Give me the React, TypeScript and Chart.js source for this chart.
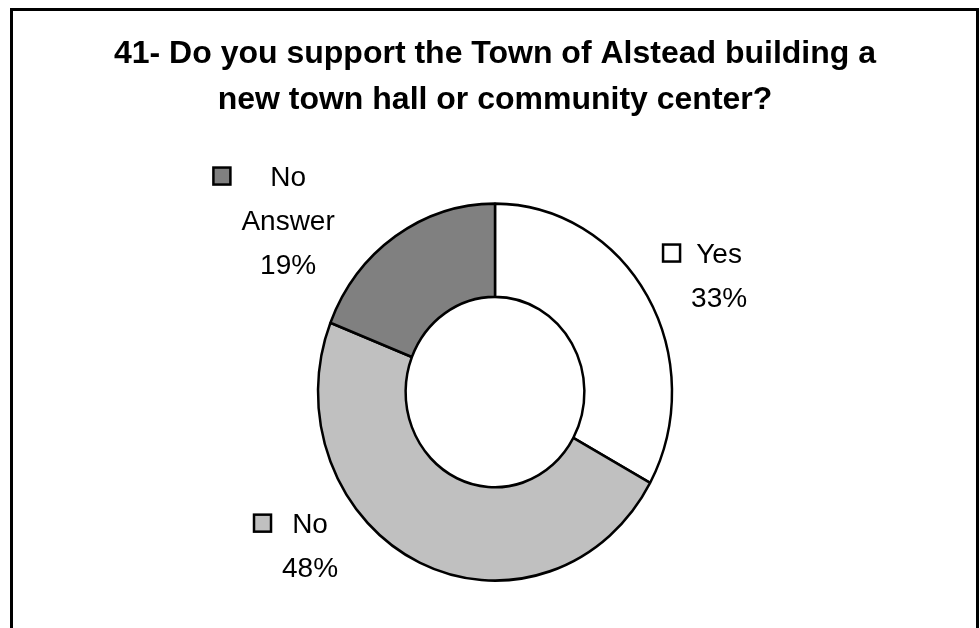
import React, { useEffect, useRef } from "react";
import { Chart, registerables } from "chart.js";

Chart.register(...registerables);

// ---- data ----
const titleLines = [
  "41- Do you support the Town of Alstead building a",
  "new town hall or community center?",
];
const categories = ["Yes", "No", "No Answer"];
const categoryLines = [["Yes"], ["No"], ["No", "Answer"]];
const values = [33, 48, 19];
const sliceColors = ["#FFFFFF", "#C0C0C0", "#808080"];

// label anchors relative to arc centre, in units of the outer radius (style, not data)
const labelAnchors = [
  { dx: 1.266, dy: -0.729 },
  { dx: -1.045, dy: 0.797 },
  { dx: -1.169, dy: -1.164 },
];

const FONT = "'Liberation Sans', Arial, sans-serif";
const Y_STRETCH = 1.065;

const ellipsePlugin = {
  id: "ellipseStretch",
  beforeDatasetsDraw(chart: any) {
    const arc = chart.getDatasetMeta(0).data[0];
    if (!arc) return;
    const ctx = chart.ctx;
    ctx.save();
    ctx.translate(arc.x, arc.y);
    ctx.scale(1, Y_STRETCH);
    ctx.translate(-arc.x, -arc.y);
  },
  afterDatasetsDraw(chart: any) {
    chart.ctx.restore();
  },
};

const labelPlugin = {
  id: "sliceLabels",
  afterDraw(chart: any) {
    const meta = chart.getDatasetMeta(0);
    const ctx = chart.ctx;
    meta.data.forEach((arc: any, i: number) => {
      const r = arc.outerRadius;
      const a = labelAnchors[i];
      const cx = arc.x + a.dx * r;
      const by = arc.y + a.dy * r;
      const lines = [...categoryLines[i], `${values[i]}%`];
      ctx.save();
      ctx.font = `28px ${FONT}`;
      ctx.fillStyle = "#000";
      ctx.textAlign = "center";
      ctx.textBaseline = "alphabetic";
      let maxW = 0;
      lines.forEach((l) => (maxW = Math.max(maxW, ctx.measureText(l).width)));
      lines.forEach((l, k) => ctx.fillText(l, cx, by + k * 44));
      const boxRight = cx - maxW / 2 - 11;
      const capMid = by - 10;
      const s = 17;
      ctx.fillStyle = sliceColors[i];
      ctx.strokeStyle = "#000";
      ctx.lineWidth = 2.5;
      ctx.fillRect(boxRight - s, capMid - s / 2, s, s);
      ctx.strokeRect(boxRight - s, capMid - s / 2, s, s);
      ctx.restore();
    });
  },
};

export default function App() {
  const ref = useRef<HTMLCanvasElement | null>(null);

  useEffect(() => {
    if (!ref.current) return;
    const chart = new Chart(ref.current, {
      type: "doughnut",
      data: {
        labels: categories,
        datasets: [
          {
            data: values,
            backgroundColor: sliceColors,
            borderColor: "#000000",
            borderWidth: 2.5,
            hoverOffset: 0,
          },
        ],
      },
      options: {
        responsive: false,
        animation: false,
        radius: 177,
        cutout: "50.5%",
        layout: { padding: { left: 10, right: 0, top: 0, bottom: 0 } },
        plugins: {
          legend: { display: false },
          tooltip: { enabled: false },
          title: {
            display: true,
            text: titleLines,
            color: "#000",
            font: { family: FONT, size: 32, weight: "bold", lineHeight: 1.44 },
            padding: { top: 31, bottom: 33 },
          },
        },
      } as any,
      plugins: [ellipsePlugin, labelPlugin],
    });
    return () => chart.destroy();
  }, []);

  return (
    <>
      <div
        style={{
          position: "fixed",
          left: 10,
          top: 8,
          width: 969,
          height: 700,
          border: "3px solid #000",
          boxSizing: "border-box",
          background: "#fff",
        }}
      />
      <canvas
        ref={ref}
        width={980}
        height={628}
        style={{ position: "fixed", left: 0, top: 0, width: 980, height: 628 }}
      />
    </>
  );
}
